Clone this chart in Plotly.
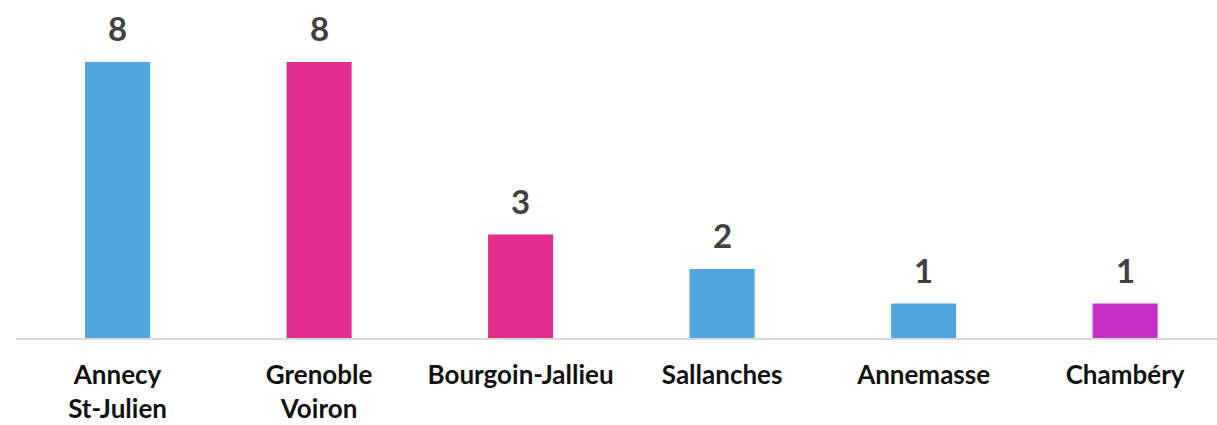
import plotly.graph_objects as go

categories = ["Annecy<br>St-Julien", "Grenoble<br>Voiron", "Bourgoin-Jallieu",
              "Sallanches", "Annemasse", "Chambéry"]
values = [8, 8, 3, 2, 1, 1]
bar_colors = ["#4FA6DC", "#E32E8E", "#E32E8E", "#4FA6DC", "#4FA6DC", "#C62FC8"]

fig = go.Figure()
fig.add_trace(go.Bar(
    x=categories, y=values,
    marker=dict(color=bar_colors, line=dict(width=0)),
    width=0.323,
    hoverinfo="skip",
))

for c, v in zip(categories, values):
    fig.add_annotation(
        x=c, y=v, text=str(v), showarrow=False,
        yanchor="middle", yshift=34,
        font=dict(family="Lato", size=33, color="#404040", weight="bold"),
    )

fig.update_layout(
    width=1217, height=425,
    margin=dict(l=16, r=0, t=0, b=87),
    paper_bgcolor="white", plot_bgcolor="white",
    showlegend=False,
    font=dict(family="Lato"),
    xaxis=dict(
        type="category",
        range=[-0.504, 5.456],
        showline=True, linecolor="#D9D9D9", linewidth=2,
        showgrid=False, zeroline=False, ticks="",
        tickfont=dict(family="Lato", size=26, color="#111111", weight="bold"),
        ticklabelstandoff=13,
    ),
    yaxis=dict(
        range=[0, 9.797], visible=False, showgrid=False, zeroline=False,
    ),
)

fig.write_html("out.html",
               config={"displayModeBar": False},
               post_script="document.body.style.margin='0';document.body.style.padding='0';")
